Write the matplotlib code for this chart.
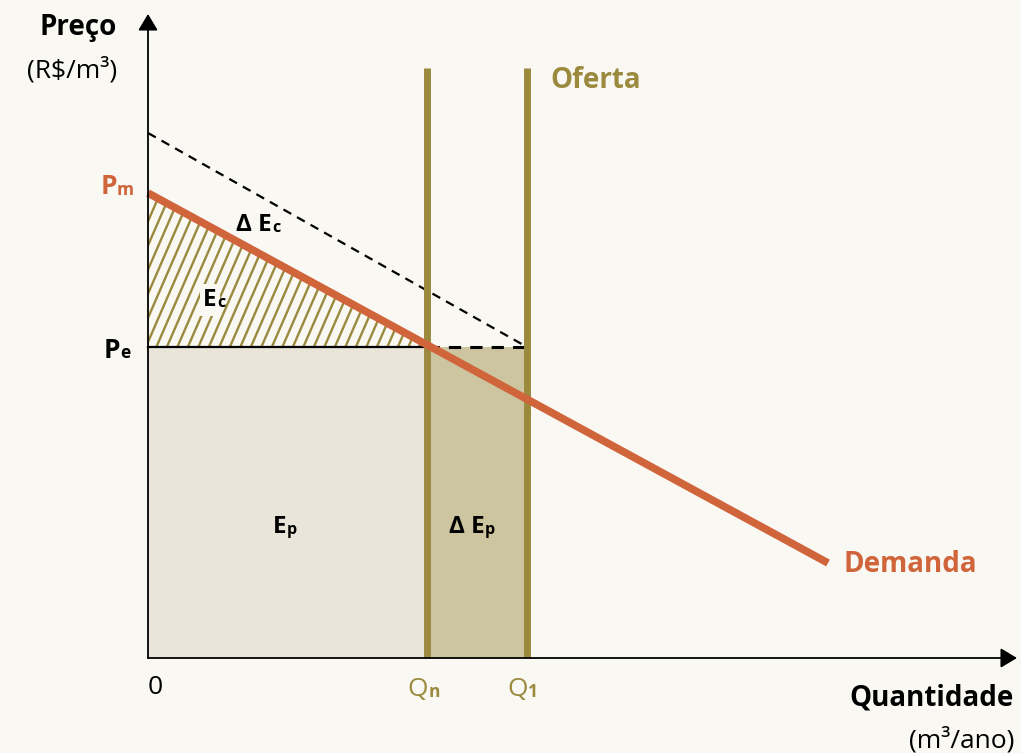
import numpy as np
import matplotlib
matplotlib.use("Agg")
import matplotlib.pyplot as plt
from matplotlib.patches import Polygon, Rectangle

plt.rcParams['font.family'] = ['Open Sans', 'DejaVu Sans']

# values (chart units)
q_n = 279
q_1 = 379
p_e = 311
p_m = 465
p_top = 525          # intercept of the shifted (dashed) demand
demand_x = [0, 680]
demand_y = [465, 95]
supply_top = 590
x_max = 869
y_max = 644

bg = '#f9f8f3'
olive = '#9b8a3e'
orange = '#d0643a'

fig = plt.figure(figsize=(10.21, 7.53), dpi=100, facecolor=bg)
ax = fig.add_axes([0, 0, 1, 1])
ax.set_facecolor(bg)
ax.set_xlim(-148, 873)
ax.set_ylim(-95, 658)
ax.axis('off')

# surplus areas
ax.add_patch(Rectangle((0, 0), q_n, p_e, facecolor='#e9e5d8', edgecolor='none', zorder=1))
ax.add_patch(Rectangle((q_n, 0), q_1 - q_n, p_e, facecolor='#cdc4a0', edgecolor='none', zorder=1))

# consumer surplus hatched triangle
slope = (demand_y[1] - demand_y[0]) / (demand_x[1] - demand_x[0])
q_cross = (p_e - demand_y[0]) / slope
tri = Polygon([(0, p_e), (0, p_m), (q_cross, p_e)], closed=True, facecolor='none',
              edgecolor='none', zorder=2)
ax.add_patch(tri)
for off in np.arange(-80, 300, 10.5):
    ln, = ax.plot([off, off + 80], [p_e - 10, p_e - 10 + 80 * 2.3], color=olive, lw=1.7, zorder=2)
    ln.set_clip_path(tri)

# lines
ax.plot([0, q_n], [p_e, p_e], color='black', lw=1.6, zorder=3)
ax.plot([q_n, q_1], [p_e, p_e], color='black', lw=2.2, ls=(0, (4, 3)), zorder=3)
ax.plot([0, q_1], [p_top, p_e], color='black', lw=1.6, ls=(0, (4, 3)), zorder=3)
for q in [q_n, q_1]:
    ax.plot([q, q], [0, supply_top], color=olive, lw=5, solid_capstyle='butt', zorder=4)
ax.plot(demand_x, demand_y, color=orange, lw=5.5, solid_capstyle='butt', zorder=5)

# axes with arrows
arr = dict(arrowstyle='-|>,head_length=0.5,head_width=0.3', lw=1.3, color='black',
           shrinkA=0, shrinkB=0, mutation_scale=20)
ax.annotate('', xy=(0, y_max), xytext=(0, 0), arrowprops=arr, zorder=6)
ax.annotate('', xy=(x_max, 0), xytext=(0, 0), arrowprops=arr, zorder=6)


def label(x, y, main, sub, color='black', size=19, weight='bold', ha='center', bbox=None):
    t = ax.text(x, y, main, color=color, fontsize=size, fontweight=weight,
                ha=ha, va='center', zorder=7, bbox=bbox)
    ax.annotate(sub, xy=(1, 0.22), xycoords=t, color=color, fontsize=size * 0.66,
                fontweight='bold', ha='left', va='baseline', zorder=7)
    return t


# axis titles
ax.text(-31, 631, 'Preço', fontsize=20, fontweight='bold', ha='right', va='center')
ax.text(-31, 588, '(R$/m³)', fontsize=19, ha='right', va='center')
ax.text(866, -40, 'Quantidade', fontsize=20, fontweight='bold', ha='right', va='center')
ax.text(866, -82, '(m³/ano)', fontsize=19, ha='right', va='center')
ax.text(7, -30, '0', fontsize=19, ha='center', va='center')

# price labels
label(-31, 471, 'P', 'm', color=orange, size=19, ha='right')
label(-28, 308, 'P', 'e', size=19, ha='right')

# quantity labels
label(q_n - 9, -32, 'Q', 'n', color=olive, size=19, weight='normal')
label(q_1 - 9, -32, 'Q', '1', color=olive, size=19, weight='normal')

# series names
ax.text(402, 578, 'Oferta', color=olive, fontsize=20, fontweight='bold', ha='left', va='center')
ax.text(695, 93, 'Demanda', color=orange, fontsize=20, fontweight='bold', ha='left', va='center')

# area labels
label(106, 433, 'Δ E', 'c', size=17.5)
label(62, 358, 'E', 'c', size=17.5, bbox=dict(boxstyle='square,pad=0.15', fc=bg, ec='none'))
label(132, 131, 'E', 'p', size=17.5)
label(319, 131, 'Δ E', 'p', size=17.5)

fig.savefig('out.png', dpi=100, facecolor=bg)
